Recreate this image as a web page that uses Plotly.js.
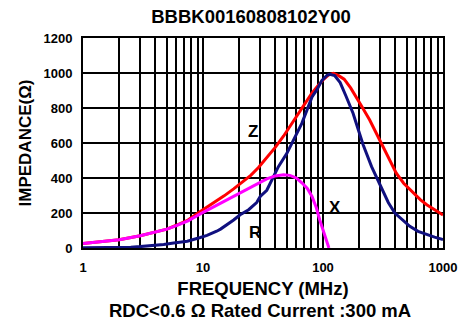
<!DOCTYPE html>
<html>
<head>
<meta charset="utf-8">
<script src="https://cdn.plot.ly/plotly-3.0.1.min.js"></script>
<style>html,body{margin:0;padding:0;background:#fff;}#chart{width:473px;height:327px;}</style>
</head>
<body>
<div id="chart"></div>
<script>
// Z curve (red)
const zFreq = [1, 1.5, 2, 3, 4, 5, 6, 7.5, 9.5, 12, 15, 18, 21, 25, 29, 34, 40, 47, 55, 63, 71, 80, 90, 100, 112, 122, 135, 150, 170, 190, 210, 245, 280, 318, 360, 408, 470, 567, 650, 732, 850, 1000];
const zVals = [25, 36, 47, 70, 90, 108, 130, 160, 208, 252, 298, 338, 375, 415, 460, 515, 575, 640, 710, 775, 826, 880, 925, 960, 990, 998, 985, 965, 915, 863, 810, 731, 650, 579, 500, 428, 370, 314, 275, 247, 220, 188];
// X curve (magenta)
const xFreq = [1, 1.5, 2, 3, 4, 5, 6, 7.5, 9.5, 12, 15, 21, 25, 29, 34, 40, 47, 53, 60, 67, 74, 81, 88, 94, 100, 107, 112];
const xVals = [25, 36, 47, 70, 90, 108, 128, 155, 195, 232, 268, 320, 345, 371, 395, 412, 418, 415, 400, 371, 340, 295, 230, 160, 100, 30, 0];
// R curve (navy)
const rFreq = [1, 2, 2.5, 3, 4, 4.7, 5.7, 7.4, 9.5, 10.8, 13, 14, 18, 20.4, 24, 28, 30, 34, 42.5, 50, 55, 58, 66.6, 73.5, 81, 89, 98, 108, 114, 125, 139, 155, 178, 196, 216, 254, 280, 310, 350, 397, 460, 529, 620, 732, 850, 1000];
const rVals = [2, 3, 5, 8, 14, 20, 28, 39, 60, 72, 96, 108, 160, 190, 219, 260, 295, 330, 465, 541, 598, 630, 712, 788, 863, 905, 958, 987, 992, 985, 945, 870, 770, 680, 590, 465, 400, 333, 260, 200, 160, 124, 95, 77, 62, 48];

const xTickVals = [1,2,3,4,5,6,7,8,9,10,20,30,40,50,60,70,80,90,100,200,300,400,500,600,700,800,900,1000];
const xTickText = xTickVals.map(v => [1,10,100,1000].includes(v) ? String(v) : '');
const yTickVals = [0, 200, 400, 600, 800, 1000, 1200];

const curveLabels = [
  {text: 'Z', f: 26.2, v: 668},
  {text: 'X', f: 126, v: 230},
  {text: 'R', f: 27, v: 88}
];

const FONT = 'Liberation Sans, Arial, sans-serif';

const traces = [
  {x: zFreq, y: zVals, type: 'scatter', mode: 'lines', name: 'Z', line: {color: '#ff0000', width: 3}},
  {x: rFreq, y: rVals, type: 'scatter', mode: 'lines', name: 'R', line: {color: '#10107f', width: 3}},
  {x: xFreq, y: xVals, type: 'scatter', mode: 'lines', name: 'X', line: {color: '#ff00ff', width: 3}}
];

const annotations = curveLabels.map(l => ({
  text: '<b>' + l.text + '</b>', x: Math.log10(l.f), y: l.v, xref: 'x', yref: 'y',
  showarrow: false, font: {family: FONT, size: 17, color: '#000'}
}));
annotations.push({
  text: '<b>RDC&lt;0.6 Ω Rated Current :300 mA</b>', xref: 'paper', yref: 'paper',
  x: 0.492, y: (248.5 - 311) / 211, xanchor: 'center', yanchor: 'middle',
  showarrow: false, font: {family: FONT, size: 18.5, color: '#000'}
});

const layout = {
  width: 473, height: 327,
  margin: {l: 82.5, r: 30, t: 37.5, b: 78.5},
  paper_bgcolor: '#fff', plot_bgcolor: '#fff',
  showlegend: false,
  title: {text: '<b>BBBK00160808102Y00</b>', x: 251/473, xanchor: 'center', y: 1 - 16.5/327, yanchor: 'middle',
          font: {family: FONT, size: 18.5, color: '#000'}},
  xaxis: {
    type: 'log', range: [0, 3], tickvals: xTickVals, ticktext: xTickText,
    showgrid: true, gridcolor: '#000', gridwidth: 2, ticks: '',
    showline: true, linecolor: '#000', linewidth: 2, mirror: true,
    tickfont: {family: FONT, size: 13, color: '#000', weight: 'bold'},
    ticklabelstandoff: 6,
    title: {text: '<b>FREQUENCY (MHz)</b>', font: {family: FONT, size: 18.5, color: '#000'}, standoff: 8},
    zeroline: false, fixedrange: true
  },
  yaxis: {
    range: [0, 1200], tickvals: yTickVals,
    showgrid: true, gridcolor: '#000', gridwidth: 2, ticks: '',
    showline: true, linecolor: '#000', linewidth: 2, mirror: true,
    tickfont: {family: FONT, size: 13, color: '#000', weight: 'bold'},
    ticklabelstandoff: 6,
    title: {text: '<b>IMPEDANCE(Ω)</b>', font: {family: FONT, size: 17, color: '#000'}, standoff: 8},
    zeroline: false, fixedrange: true
  },
  annotations: annotations
};

Plotly.newPlot('chart', traces, layout, {displayModeBar: false, staticPlot: true});
</script>
</body>
</html>
